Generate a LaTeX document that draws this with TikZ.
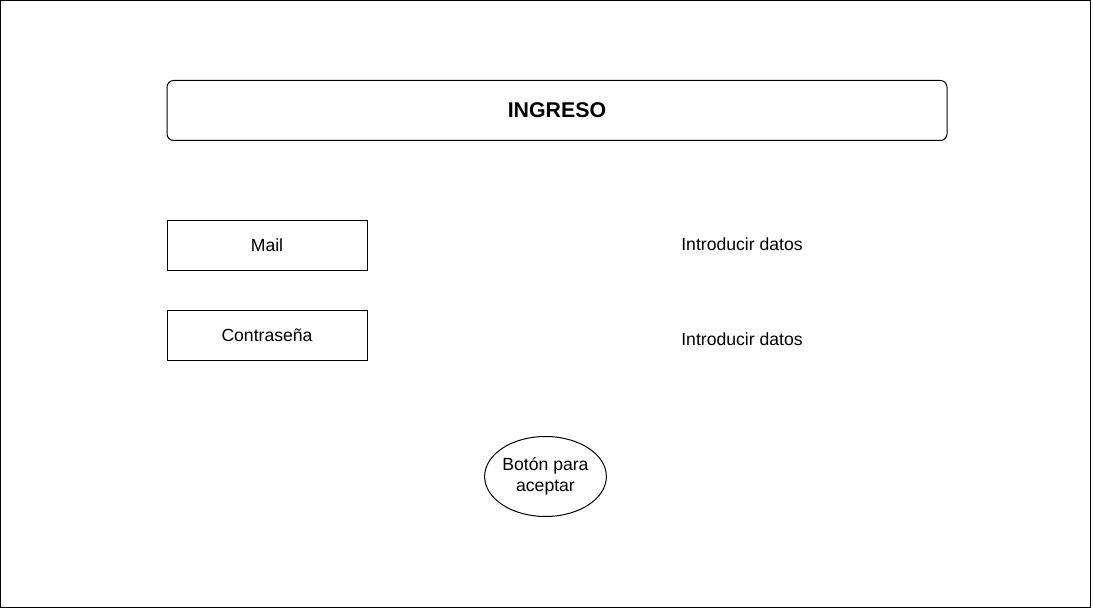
\documentclass[tikz,border=0pt]{standalone}
\usepackage{fontspec}
\setmainfont{Liberation Sans}
\usetikzlibrary{shapes.geometric}
\tikzset{
  marco/.style={line width=0.75pt},
  titulo/.style={draw, line width=0.75pt, rounded corners=5pt, minimum width=585pt, minimum height=45pt, inner sep=0pt, font=\fontsize{16}{19}\selectfont\bfseries},
  campo/.style={draw, line width=0.75pt, minimum width=150pt, minimum height=37.5pt, inner sep=0pt, font=\fontsize{13.2}{15.75}\selectfont},
  texto/.style={inner sep=0pt, font=\fontsize{13.2}{15.75}\selectfont},
  boton/.style={draw, ellipse, line width=0.75pt, minimum width=90pt, minimum height=60pt, inner sep=0pt, align=center, font=\fontsize{13.2}{15.75}\selectfont}
}
\begin{document}
\begin{tikzpicture}[x=0.75pt, y=-0.75pt]
			%%%%% START %%%%%
			
			\useasboundingbox (0, 0) rectangle (1093, 609);
			\draw[marco] (0.5, 0.5) rectangle (1090.5, 607.5);
			
			\node[titulo] (ingreso) at (557, 110.5) {INGRESO};
			
			\node[campo] (mail) at (267, 245.5) {Mail};
			\node[texto] (datosmail) at (742, 244) {Introducir datos};
			
			\node[campo] (clave) at (267, 335.5) {Contraseña};
			\node[texto] (datosclave) at (742, 339) {Introducir datos};
			
			\node[boton] (aceptar) at (545.5, 476.5) {Botón para\\aceptar};
			
			%%%%% END %%%%%
		\end{tikzpicture}
\end{document}
